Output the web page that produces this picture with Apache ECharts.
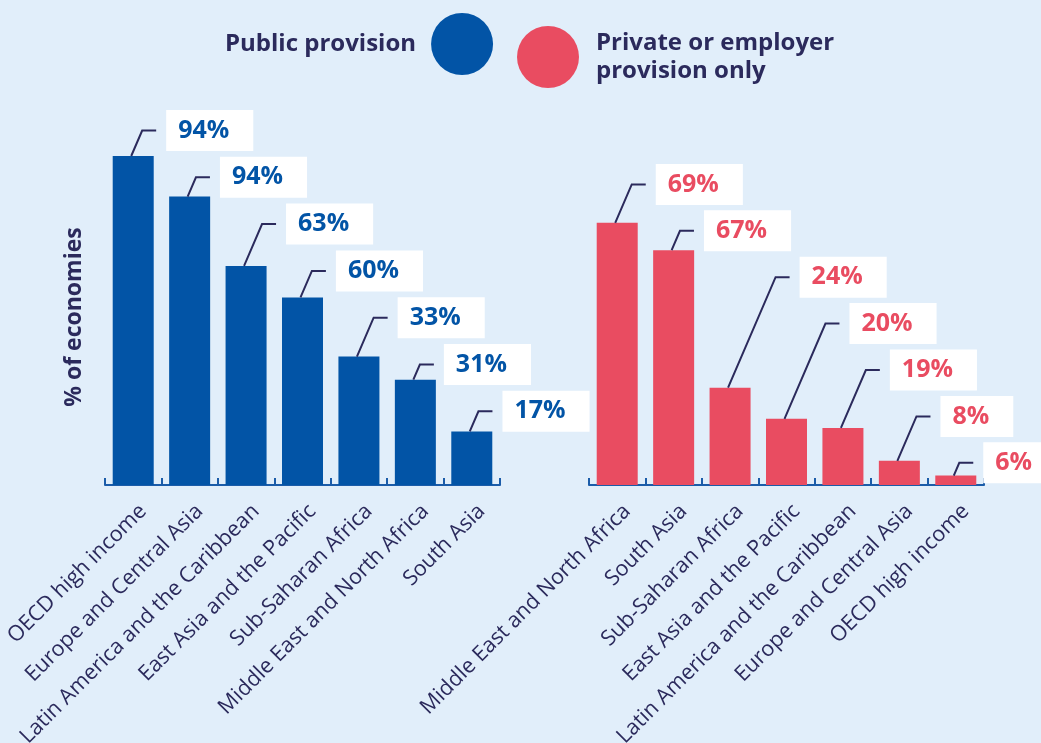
<!DOCTYPE html>
<html>
<head>
<meta charset="utf-8">
<script src="https://cdn.jsdelivr.net/npm/echarts@6/dist/echarts.min.js"></script>
<style>
html,body{margin:0;padding:0;background:#e1eefa;}
#chart{width:1041px;height:743px;}
</style>
</head>
<body>
<div id="chart"></div>
<script>
// ---- data ----
const publicCategories = ['OECD high income','Europe and Central Asia','Latin America and the Caribbean','East Asia and the Pacific','Sub-Saharan Africa','Middle East and North Africa','South Asia'];
const publicBarValues = [94, 82.4, 62.6, 53.6, 36.7, 30.1, 15.3];
const publicLabelValues = [94, 94, 63, 60, 33, 31, 17];

const privateCategories = ['Middle East and North Africa','South Asia','Sub-Saharan Africa','East Asia and the Pacific','Latin America and the Caribbean','Europe and Central Asia','OECD high income'];
const privateBarValues = [74.9, 67.1, 27.8, 18.9, 16.3, 6.9, 2.7];
const privateLabelValues = [69, 67, 24, 20, 19, 8, 6];

const seriesNames = ['Public provision', 'Private or employer provision only'];
const yAxisName = '% of economies';

// ---- styles ----
const BLUE = '#0254a6';
const PINK = '#e94c61';
const NAVY = '#2b2a5c';
const AXIS_BLUE = '#1b5ca9';
const FONT = '"Open Sans", "Noto Sans", sans-serif';

function labelRenderer(color, stairTop, stairStep) {
  return function (params, api) {
    const i = params.dataIndex;
    const pt = api.coord([api.value(0), api.value(1)]);
    const boxY = params.coordSys.y + stairTop + stairStep * i;
    const sx = pt[0] - 2, sy = pt[1];
    const ex = sx + 0.43 * (sy - boxY);
    return {
      type: 'group',
      children: [
        {
          type: 'polyline',
          shape: { points: [[sx, sy], [ex, boxY], [ex + 14, boxY]] },
          style: { stroke: NAVY, lineWidth: 2, fill: null }
        },
        {
          type: 'text',
          x: ex + 24,
          y: boxY,
          style: {
            text: api.value(2) + '%',
            fill: color,
            font: '700 25px ' + FONT,
            align: 'left',
            verticalAlign: 'middle',
            backgroundColor: '#ffffff',
            padding: [7, 24, 7, 12],
            lineHeight: 27
          }
        }
      ]
    };
  };
}

const xAxisCommon = {
  type: 'category',
  boundaryGap: true,
  axisLine: { show: true, lineStyle: { color: AXIS_BLUE, width: 2 } },
  axisTick: { show: true, inside: true, length: 7, alignWithLabel: false, lineStyle: { color: AXIS_BLUE, width: 2 } },
  axisLabel: { interval: 0, rotate: 45, color: NAVY, fontSize: 21.5, fontFamily: FONT, margin: 13,
    verticalAlign: 'top', padding: [3, 0, 0, 0] },
  splitLine: { show: false }
};
const yAxisCommon = {
  type: 'value', min: 0, max: 100,
  axisLine: { show: false }, axisTick: { show: false }, axisLabel: { show: false }, splitLine: { show: false }
};

const chart = echarts.init(document.getElementById('chart'), null, { renderer: 'canvas' });
chart.setOption({
  backgroundColor: '#e1eefa',
  animation: false,
  legend: [
    {
      data: [seriesNames[0]], left: 225, top: 13, padding: 0, align: 'right', icon: 'circle',
      itemWidth: 62, itemHeight: 62, selectedMode: false,
      textStyle: { fontSize: 24, fontWeight: 'bold', color: NAVY, fontFamily: FONT, padding: [0, 10, 0, 0] }
    },
    {
      data: [seriesNames[1]], left: 517, top: 13, padding: 0, align: 'left', icon: 'circle',
      itemWidth: 62, itemHeight: 62, selectedMode: false,
      formatter: function () { return 'Private or employer\nprovision only'; },
      textStyle: { fontSize: 24, fontWeight: 'bold', color: NAVY, fontFamily: FONT, lineHeight: 28, padding: [32, 0, 0, 12] }
    }
  ],
  grid: [
    { left: 105, top: 135, width: 395, height: 350, containLabel: false, outerBoundsMode: 'none' },
    { left: 589, top: 135, width: 395, height: 350, containLabel: false, outerBoundsMode: 'none' }
  ],
  xAxis: [
    Object.assign({ gridIndex: 0, data: publicCategories }, xAxisCommon),
    Object.assign({ gridIndex: 1, data: privateCategories }, xAxisCommon)
  ],
  yAxis: [
    Object.assign({ gridIndex: 0, name: yAxisName, nameLocation: 'middle', nameGap: 19,
      nameTextStyle: { fontSize: 23, fontWeight: 'bold', color: NAVY, fontFamily: FONT, padding: [0, 14, 0, 0] } }, yAxisCommon),
    Object.assign({ gridIndex: 1 }, yAxisCommon)
  ],
  series: [
    { name: seriesNames[0], type: 'bar', xAxisIndex: 0, yAxisIndex: 0, barWidth: 41,
      itemStyle: { color: BLUE }, data: publicBarValues },
    { name: seriesNames[1], type: 'bar', xAxisIndex: 1, yAxisIndex: 1, barWidth: 41,
      itemStyle: { color: PINK }, data: privateBarValues },
    { name: 'publicLabels', type: 'custom', xAxisIndex: 0, yAxisIndex: 0, clip: false, z: 5,
      encode: { x: 0, y: 1 },
      renderItem: labelRenderer(BLUE, -4.5, 46.8),
      data: publicBarValues.map((v, i) => [i, v, publicLabelValues[i]]) },
    { name: 'privateLabels', type: 'custom', xAxisIndex: 1, yAxisIndex: 1, clip: false, z: 5,
      encode: { x: 0, y: 1 },
      renderItem: labelRenderer(PINK, 49.4, 46.4),
      data: privateBarValues.map((v, i) => [i, v, privateLabelValues[i]]) }
  ]
});
</script>
</body>
</html>
